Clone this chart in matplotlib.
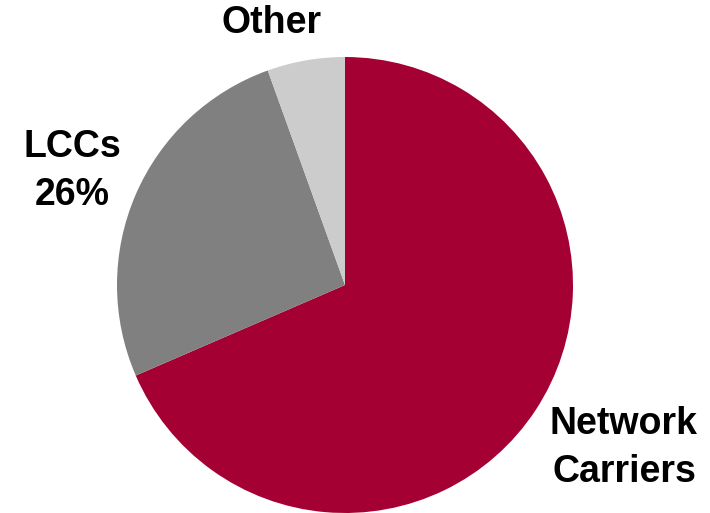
import matplotlib
matplotlib.use("Agg")
import matplotlib.pyplot as plt

segments = ["Network Carriers", "LCCs", "Other"]
shares = [68.5, 26, 5.5]
colors = ["#A50034", "#808080", "#CCCCCC"]
label_text = ["Network\nCarriers", "LCCs\n26%", "Other"]

W, H = 710, 513
fig = plt.figure(figsize=(W / 100, H / 100), dpi=100)
ax = fig.add_axes([0, 0, 1, 1])

ax.pie(shares, colors=colors, startangle=90, counterclock=False,
       center=(345, H - 285), radius=228, frame=True,
       wedgeprops=dict(linewidth=0))
ax.set_xlim(0, W)
ax.set_ylim(0, H)
ax.set_aspect("equal")
ax.axis("off")

label_pos = [(624, H - 448), (72, H - 171), (272, H - 23)]
for txt, (x, y) in zip(label_text, label_pos):
    ax.text(x, y, txt, ha="center", va="center", fontsize=27,
            fontweight="bold", family="Liberation Sans", color="black",
            linespacing=1.42)

fig.savefig("out.png", dpi=100)
